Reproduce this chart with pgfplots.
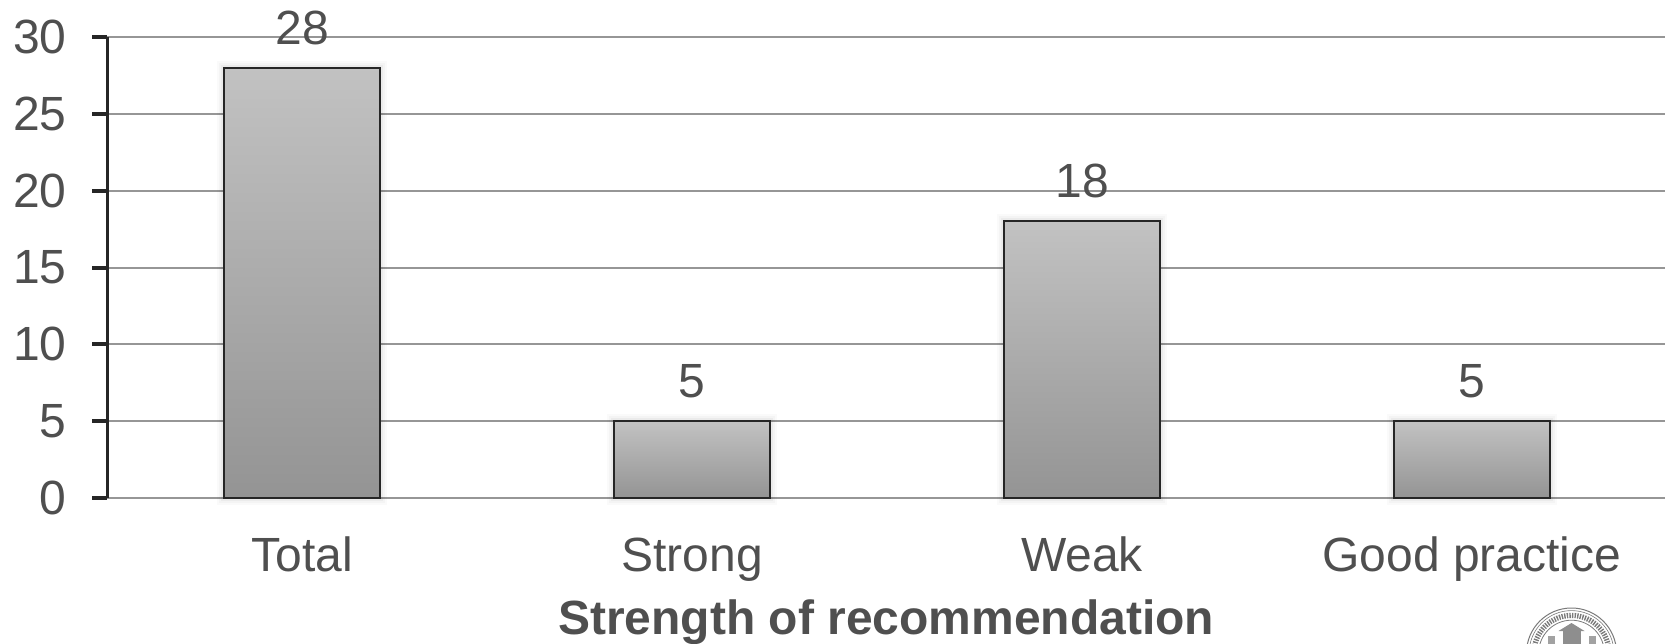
\documentclass[border=0pt]{standalone}
\usepackage{fontspec}
\setmainfont{Liberation Sans}
\usepackage{pgfplots}
\pgfplotsset{compat=1.18}
\definecolor{labelgray}{HTML}{4F4F4F}
\definecolor{gridgray}{HTML}{969696}
\definecolor{inkdark}{HTML}{262626}
\definecolor{sealgray}{HTML}{7A7A7A}
\pgfplotsset{
  gradientbar/.style={
    ybar, bar width=78pt, bar shift=0pt,
    draw=inkdark, line width=1pt,
    top color=black!24, bottom color=black!42,
    preaction={draw=black,draw opacity=0.018,line width=7pt},
    preaction={draw=black,draw opacity=0.025,line width=5pt},
    preaction={draw=black,draw opacity=0.035,line width=3pt},
    nodes near coords,
    every node near coord/.append style={
      font=\fontsize{24}{28}\selectfont,text=labelgray,
      anchor=base,yshift=11.8pt},
  },
}
\begin{document}
\begin{tikzpicture}[x=1pt,y=1pt]
% page frame: one drawing pixel is half a point
\useasboundingbox (-53.75pt,-72.5pt) rectangle (778.75pt,249pt);
\begin{axis}[
  at={(0pt,0pt)}, anchor=south west,
  scale only axis,
  width=778.75pt, height=230.5pt,
  xmin=-0.5, xmax=3.4955, ymin=0, ymax=30,
  clip=false,
  axis x line=bottom, axis y line=left,
  axis line style={-},
  x axis line style={draw=gridgray,line width=1pt},
  y axis line style={draw=inkdark,line width=1.9pt},
  ytick={0,5,...,30},
  ymajorgrids,
  major grid style={draw=gridgray,line width=1pt},
  xtick={0,1,2,3},
  xticklabels={Total,Strong,Weak,Good practice},
  xtick style={draw=none},
  ytick style={draw=inkdark,line width=2pt},
  tick align=outside,
  major tick length=7.5pt,
  /pgf/number format/assume math mode=true,
  tick label style={font=\fontsize{24}{28}\selectfont,text=labelgray},
  yticklabel style={anchor=east,xshift=-9.5pt},
  xticklabel style={anchor=base,yshift=-29.1pt},
  xlabel={\textbf{Strength of recommendation}},
  xlabel style={font=\fontsize{24}{28}\selectfont,text=labelgray,
    at={(axis description cs:0.5,0)},anchor=base,yshift=-68.3pt},
]
\addplot[gradientbar] coordinates {(0,28)};
\addplot[gradientbar] coordinates {(1,5)};
\addplot[gradientbar] coordinates {(2,18)};
\addplot[gradientbar] coordinates {(3,5)};
\end{axis}
% university seal, cut off by the lower page edge
\begin{scope}[shift={(732pt,-77.5pt)}]
  \draw[sealgray,line width=0.5pt] (0,0) circle (22.5pt);
  \draw[sealgray,line width=0.3pt] (0,0) circle (21.2pt);
  \draw[sealgray,line width=2.6pt,dash pattern=on 0.7pt off 0.6pt] (0,0) circle (18.8pt);
  \draw[sealgray,line width=0.4pt] (0,0) circle (16.4pt);
  \fill[sealgray!85] (-4.5pt,0) rectangle (4.5pt,11pt);
  \fill[sealgray!85] (-6.5pt,11pt) -- (0,15pt) -- (6.5pt,11pt) -- cycle;
  \fill[sealgray!70] (-12pt,0) rectangle (-8.5pt,8.5pt);
  \fill[sealgray!70] (8.5pt,0) rectangle (12pt,8.5pt);
\end{scope}
\end{tikzpicture}
\end{document}
